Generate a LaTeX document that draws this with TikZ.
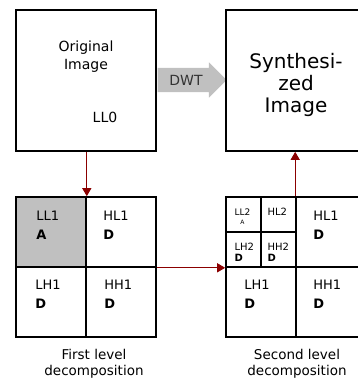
\documentclass[tikz,border=0pt]{standalone}
\usepackage{fontspec}
\setmainfont{DejaVu Sans}
\usetikzlibrary{shapes.arrows, arrows.meta, positioning}
\definecolor{BoxGray}{HTML}{C0C0C0}
\definecolor{LinkRed}{HTML}{8B0000}
\definecolor{TextDark}{HTML}{333333}

\begin{document}
\begin{tikzpicture}[x=1pt, y=-1pt,
            bigbox/.style={rectangle, draw=black, line width=1.6pt, minimum width=140pt, minimum height=141pt, inner sep=0pt},
            cell/.style={rectangle, draw=black, line width=1.6pt, minimum size=70pt, inner sep=0pt},
            subcell/.style={rectangle, draw=black, line width=1.4pt, minimum size=35pt, inner sep=0pt},
            arrow/.style={-{Triangle[length=8pt, width=9pt]}, line width=1.1pt, color=LinkRed},
            dwt/.style={single arrow, fill=BoxGray, single arrow head extend=5.5pt, minimum height=69pt, text height=11pt, text depth=1pt, inner ysep=6pt, inner xsep=2pt, font=\fontsize{14}{16}\selectfont, text=TextDark},
            lbl/.style={anchor=north west, inner sep=0pt, align=left, font=\fontsize{13}{19}\selectfont},
            minilbl/.style={anchor=north west, inner sep=0pt, align=left, font=\fontsize{10}{13}\selectfont},
            caption/.style={align=center, font=\fontsize{13.5}{16}\selectfont}
        ]
            \clip (0,0) rectangle (358,383);

            % Transform arrow (behind the boxes)
            \node[dwt] (dwt) at (186,80) {DWT};

            % Top row: original and synthesized image
            \node[bigbox] (orig) at (86,80.5) {};
            \node[align=center, font=\fontsize{14}{18}\selectfont] (origtxt) at (86,57) {Original\\Image};
            \node[font=\fontsize{14}{16}\selectfont] (ll0) at (105,117) {LL0};
            \node[bigbox] (synth) at (296,80.5) {};
            \node[align=center, font=\fontsize{20}{22}\selectfont] (synthtxt) at (296,85) {Synthesi-\\zed\\Image};

            % First level decomposition
            \node[cell, fill=BoxGray] (ll1) at (51,232) {};
            \node[cell] (hl1) at (121,232) {};
            \node[cell] (lh1) at (51,302) {};
            \node[cell] (hh1) at (121,302) {};
            \node[lbl] at ([shift={(21,15)}]ll1.north west) {LL1\\\textbf{A}};
            \node[lbl] at ([shift={(18,15)}]hl1.north west) {HL1\\\textbf{D}};
            \node[lbl] at ([shift={(20,14)}]lh1.north west) {LH1\\\textbf{D}};
            \node[lbl] at ([shift={(19,14)}]hh1.north west) {HH1\\\textbf{D}};
            \node[caption] (cap1) at (94,364) {First level\\decomposition};

            % Second level decomposition
            \node[subcell] (ll2) at (243.5,214.5) {};
            \node[subcell] (hl2) at (278.5,214.5) {};
            \node[subcell] (lh2) at (243.5,249.5) {};
            \node[subcell] (hh2) at (278.5,249.5) {};
            \node[cell] (hl1b) at (331,232) {};
            \node[cell] (lh1b) at (261,302) {};
            \node[cell] (hh1b) at (331,302) {};
            \node[anchor=north west, inner sep=0pt, align=center, font=\rmfamily\fontsize{9}{10}\selectfont] at ([shift={(9,12)}]ll2.north west) {LL2\\[-1pt]\fontsize{6}{7}\selectfont A};
            \node[minilbl] at ([shift={(7,12)}]hl2.north west) {HL2};
            \node[minilbl] at ([shift={(9,12)}]lh2.north west) {LH2\\[-2pt]\textbf{D}};
            \node[minilbl] at ([shift={(7,12)}]hh2.north west) {HH2\\[-2pt]\textbf{D}};
            \node[lbl] at ([shift={(18,15)}]hl1b.north west) {HL1\\\textbf{D}};
            \node[lbl] at ([shift={(19,14)}]lh1b.north west) {LH1\\\textbf{D}};
            \node[lbl] at ([shift={(18,14)}]hh1b.north west) {HH1\\\textbf{D}};
            \node[caption] (cap2) at (297,364) {Second level\\decomposition};

            % Links between the stages
            \draw[arrow] (orig.south -| ll1.north east) -- (ll1.north east);
            \draw[arrow] (hl1.east |- hl1.south) -- (lh1b.west |- hl1.south);
            \draw[arrow] (hl1b.north west) -- (synth.south -| hl1b.north west);
        \end{tikzpicture}
\end{document}
